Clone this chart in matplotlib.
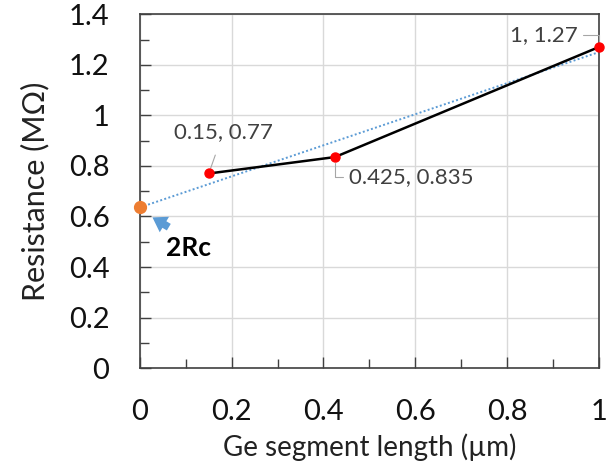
import numpy as np
import matplotlib.pyplot as plt
from matplotlib.ticker import MultipleLocator, FuncFormatter

plt.rcParams['font.family'] = ['Lato', 'DejaVu Sans']

# data
length = [0.15, 0.425, 1.0]
resistance = [0.77, 0.835, 1.27]
point_labels = ['0.15, 0.77', '0.425, 0.835', '1, 1.27']

# linear trendline and its intercept (2Rc)
slope, intercept = np.polyfit(length, resistance, 1)

fig = plt.figure(figsize=(6.06, 4.75), dpi=100)
ax = fig.add_axes([0.231, 0.225, 0.757, 0.745])

xs = np.array([0, 1.0])
ax.plot(xs, slope * xs + intercept, linestyle=(0, (1, 1.2)), color='#5b9bd5', lw=1.4, zorder=2)
ax.plot(length, resistance, color='black', lw=1.8, zorder=3)
ax.plot(length, resistance, 'o', color='#ff0000', ms=6.5, zorder=4, clip_on=False)
ax.plot([0], [intercept], 'o', color='#ed7d31', ms=8.5, zorder=5, clip_on=False)

# data labels with leader lines
lbl = dict(fontsize=16, color='#404040', va='center', ha='left', textcoords='offset points')
ax.annotate(point_labels[0], xy=(length[0], resistance[0]), xytext=(-25, 30), **lbl,
            arrowprops=dict(arrowstyle='-', color='#a6a6a6', lw=0.8, shrinkA=8, shrinkB=4))
ax.annotate(point_labels[1], xy=(length[1], resistance[1]), xytext=(10, -14.5), **lbl,
            arrowprops=dict(arrowstyle='-', color='#a6a6a6', lw=0.8, shrinkA=2, shrinkB=4,
                            connectionstyle='angle,angleA=0,angleB=90,rad=0'))
ax.annotate(point_labels[2], xy=(length[2], resistance[2]), xytext=(-64, 8.5), **lbl,
            arrowprops=dict(arrowstyle='-', color='#a6a6a6', lw=0.8, shrinkA=2, shrinkB=4,
                            connectionstyle='angle,angleA=0,angleB=90,rad=0'))

# 2Rc arrow + label
ax.annotate('', xy=(0.022, 0.602), xytext=(0.068, 0.552),
            arrowprops=dict(arrowstyle='simple,head_width=1.3,head_length=1.0,tail_width=0.55',
                            color='#5b9bd5', lw=0))
ax.text(0.057, 0.474, '2Rc', fontsize=19, fontweight='bold', ha='left', va='center')

ax.set_xlim(0, 1)
ax.set_ylim(0, 1.4)
ax.xaxis.set_major_locator(MultipleLocator(0.2))
ax.xaxis.set_minor_locator(MultipleLocator(0.1))
ax.yaxis.set_major_locator(MultipleLocator(0.2))
ax.yaxis.set_minor_locator(MultipleLocator(0.1))
fmt = FuncFormatter(lambda v, p: ('%g' % round(v, 2)))
ax.xaxis.set_major_formatter(fmt)
ax.yaxis.set_major_formatter(fmt)

ax.grid(True, which='major', color='#d9d9d9', lw=1)
ax.set_axisbelow(True)
ax.tick_params(which='both', direction='in', color='#404040', labelsize=21, labelcolor='#111111')
ax.tick_params(which='major', length=8, width=1, pad=22)
ax.tick_params(which='minor', length=6.5, width=1)
for s in ax.spines.values():
    s.set_color('#404040')
    s.set_linewidth(1.2)

ax.set_xlabel('Ge segment length (µm)', fontsize=20, color='#222222', labelpad=6)
ax.set_ylabel('Resistance (MΩ)', fontsize=22, color='#222222', labelpad=14)

fig.savefig('out.png', dpi=100)
